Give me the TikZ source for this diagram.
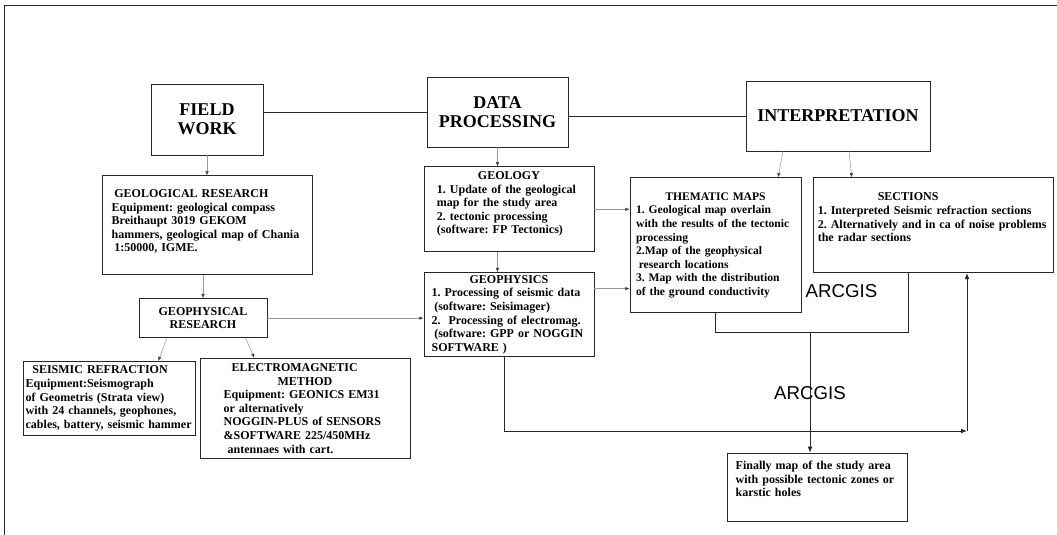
\documentclass[tikz,border=0pt]{standalone}
\usepackage{fontspec}
\setmainfont{Liberation Serif}
\setsansfont{Liberation Sans}
\usetikzlibrary{arrows.meta,positioning}
\newcommand{\ctitle}[1]{\makebox[\linewidth]{#1}}
\newcommand{\vpad}[1]{\rule[-#1]{0pt}{#1}}
\newcommand{\boxfont}{\fontsize{9}{10.2}\selectfont\bfseries\frenchspacing\hyphenpenalty=10000\relax}

\begin{document}
\begin{tikzpicture}[
    x=0.75pt, y=-0.75pt,
    head/.style={draw=black!85, line width=0.6pt, align=center, inner sep=2pt, minimum height=52.5pt,
        font=\fontsize{13.5}{14.5}\selectfont\bfseries},
    box/.style={draw=black!85, line width=0.6pt, align=left, inner xsep=2pt, inner ysep=2pt, font=\boxfont},
    link/.style={line width=0.6pt, black!85},
    hint/.style={-{Latex[length=3.2pt,width=2.6pt,color=black!75]}, line width=0.4pt, black!40},
    flow/.style={-{Latex[length=4.5pt,width=3.6pt]}, line width=0.6pt, black!85},
    gis/.style={font=\fontsize{14}{16}\selectfont\sffamily, inner sep=0pt}
]
\useasboundingbox (0,0) rectangle (1057,535);
\draw[link] (1057,5) -| (4,535);

% the three stages
\node[head, minimum width=84pt, minimum height=53.25pt] (field) at (207,119.5) {FIELD\\WORK};
\node[head, minimum width=105.75pt] (dataproc) at (497.5,112) {DATA\\PROCESSING};
\node[head, minimum width=138pt] (interp) at (838,116) {INTERPRETATION};

% field work
\node[box, below=15pt of field, minimum width=157.5pt, minimum height=74.25pt, text width=143pt] (georesearch)
    {\hspace*{2pt}GEOLOGICAL RESEARCH\\Equipment: geological compass\\Breithaupt 3019 GEKOM\\hammers, geological map of Chania\\\hspace*{2pt}1:50000, IGME.\vpad{7pt}};
\node[box, align=center, below=17.25pt of georesearch, xshift=-3pt, minimum width=96pt, minimum height=29.25pt] (geophres)
    {GEOPHYSICAL\\RESEARCH};
\node[box, below=17.25pt of geophres, xshift=-70.5pt, minimum width=129pt, minimum height=55.5pt, text width=125pt] (seismic)
    {\hspace*{5pt}SEISMIC REFRACTION\\Equipment:Seismograph\\of Geometris (Strata view)\\with 24 channels, geophones,\\cables, battery, seismic hammer};
\node[box, below=15pt of geophres, xshift=76.5pt, minimum width=157.5pt, minimum height=75pt, text width=122pt] (em)
    {\hspace*{6pt}ELECTROMAGNETIC\\\ctitle{METHOD}\\Equipment: GEONICS EM31\\or alternatively\\NOGGIN-PLUS of SENSORS\\\&SOFTWARE 225/450MHz\\\hspace*{3pt}antennaes with cart.};

% data processing
\node[box, below=14.25pt of dataproc, xshift=8.6pt, minimum width=127.5pt, minimum height=63.75pt, text width=108pt] (geology)
    {\ctitle{GEOLOGY}\\1. Update of the geological\\map for the study area\\2. tectonic processing\\(software: FP Tectonics)\vpad{10pt}};
\node[box, below=15pt of geology, minimum width=127.5pt, minimum height=63pt, text width=116pt] (geophys)
    {\ctitle{GEOPHYSICS}\\1. Processing of seismic data\\\hspace*{2pt}(software: Seisimager)\\2.~ Processing of electromag.\\\hspace*{2pt}(software: GPP or NOGGIN\\SOFTWARE )};

% interpretation
\node[box, font=\boxfont\fontsize{8.7}{10.2}\selectfont, below=19.5pt of interp, xshift=-91.9pt, minimum width=128.25pt, minimum height=101.25pt, text width=119pt] (thematic)
    {\ctitle{THEMATIC MAPS}\\1. Geological map overlain\\with the results of the tectonic\\processing\\2.Map of the geophysical\\\hspace*{2pt}research locations\\3. Map with the distribution\\of the ground conductivity};
\node[box, right=9pt of thematic.north east, anchor=north west, minimum width=180pt, minimum height=71.25pt, text width=174pt] (sections)
    {\hspace*{45pt}SECTIONS\\1. Interpreted Seismic refraction sections\\2. Alternatively and in ca of noise problems\\the radar sections\vpad{12pt}};
\node[box, minimum width=135pt, minimum height=51pt, text width=122pt] (final) at (817,487)
    {Finally map of the study area\\with possible tectonic zones or\\karstic holes\vpad{12pt}};

\node[gis, anchor=west] (gis1) at ([xshift=3pt, yshift=-34.5pt]thematic.east) {ARCGIS};

% stage links
\draw[link] (dataproc.west) -- (dataproc.west -| field.east);
\draw[link] (interp.west) -- (interp.west -| dataproc.east);

\draw[hint] (field.south) -- (field.south |- georesearch.north);
\draw[hint] (geophres.north |- georesearch.south) -- (geophres.north);
\draw[hint] ([xshift=-27pt]geophres.south) -- ([xshift=37pt]seismic.north);
\draw[hint] ([xshift=32pt]geophres.south) -- ([xshift=-38pt]em.north);
\draw[hint] (geophres.east) -- (geophres.east -| geophys.west);
\draw[hint] (dataproc.south) -- (dataproc.south |- geology.north);
\draw[hint] (dataproc.south |- geology.south) -- (dataproc.south |- geophys.north);
\draw[hint] (geology.east) -- (geology.east -| thematic.west);
\draw[hint] ([yshift=19.5pt]geophys.east) -- ([yshift=19.5pt]geophys.east -| thematic.west);
\draw[hint] ([xshift=-41.25pt]interp.south) -- ([xshift=47pt]thematic.north);
\draw[hint] ([xshift=8.25pt]interp.south) -- ([xshift=-61.5pt]sections.north);

% towards the final map
\coordinate (merge) at ([yshift=-14.25pt]thematic.south);
\draw[link] (thematic.south) -- (merge) -| ([xshift=-18.75pt]sections.south);
\coordinate (gisdrop) at ([xshift=-5.25pt]final.north);
\draw[flow] (gisdrop |- merge) -- (gisdrop);
\node[gis] (gis2) at ([yshift=45pt]gisdrop) {ARCGIS};
\coordinate (corner) at (967,431);
\draw[flow] ([xshift=-3.75pt]geophys.south) |- (corner);
\draw[flow] (corner) -- (corner |- sections.south);
\end{tikzpicture}
\end{document}
